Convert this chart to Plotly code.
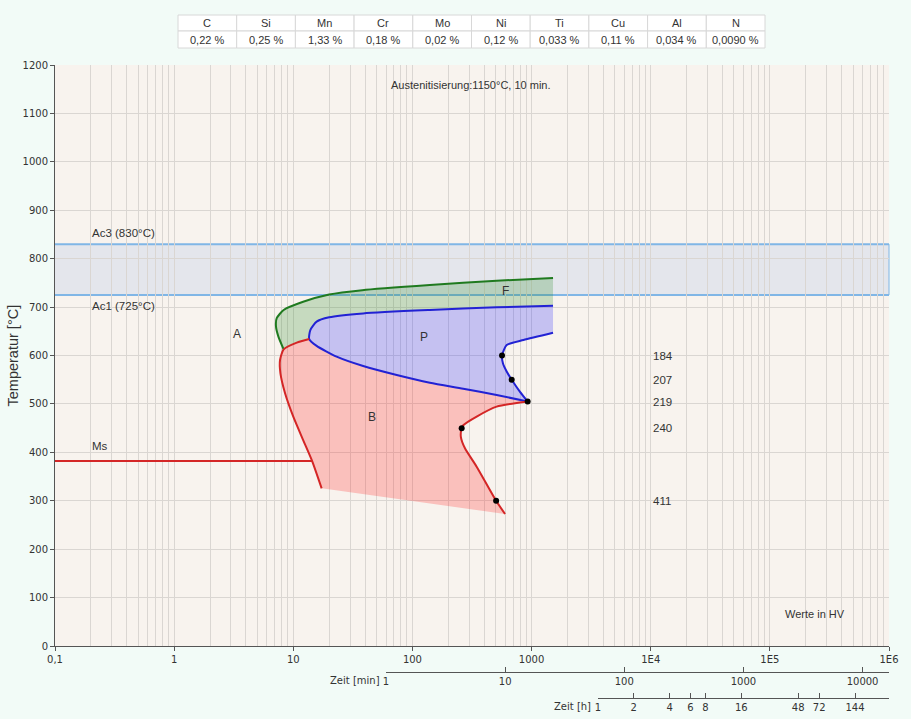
import numpy as np
import plotly.graph_objects as go

# ---------------- data ----------------
elements = ["C", "Si", "Mn", "Cr", "Mo", "Ni", "Ti", "Cu", "Al", "N"]
contents = ["0,22 %", "0,25 %", "1,33 %", "0,18 %", "0,02 %", "0,12 %",
            "0,033 %", "0,11 %", "0,034 %", "0,0090 %"]

x_tickvals = [0.1, 1, 10, 100, 1000, 1e4, 1e5, 1e6]
x_ticktext = ["0,1", "1", "10", "100", "1000", "1E4", "1E5", "1E6"]
min_ticks = [1, 10, 100, 1000, 10000]
h_ticks = [1, 2, 4, 6, 8, 16, 48, 72, 144]

ac3 = 830
ac1 = 725
ms_T = 382
ms_t = [0.1, 14.4]

ferrite_t = [1514, 509, 140, 38, 20, 12.1, 8.3, 7.26, 7.16, 7.5, 8.3]
ferrite_T = [760, 754.5, 745.6, 735, 726, 711, 694, 677, 659.5, 639, 612.7]

pearlite_start_t = [1514, 509, 140, 38.6, 20, 15.7, 13.9, 13.6, 15.7, 23.1,
                    38.6, 73.8, 140, 267, 509, 927]
pearlite_start_T = [703, 699.5, 694, 687, 679, 670, 652.6, 634, 620, 597.7,
                    578.3, 559.7, 543.8, 531.5, 518.4, 505]

pearlite_end_t = [927, 800, 681, 618, 575, 565, 618, 855, 1514]
pearlite_end_T = [505, 525, 550, 567, 584, 600, 621.7, 632, 647]

bainite_start_t = [13.6, 10.7, 8.3, 7.74, 7.8, 8.53, 10.0, 12.1, 14.4, 17.3]
bainite_start_T = [634, 626.6, 612.7, 590.7, 563, 522, 473.6, 425.4, 382, 325.7]

bainite_end_t = [927, 509, 346, 267, 259, 255, 276, 346, 504, 599]
bainite_end_T = [505, 494.5, 474, 456, 450, 432, 408.3, 370.4, 300, 272.6]

dot_t = [565, 681, 927, 259, 504]
dot_T = [600, 550, 505, 450, 300]
hardness = ["184", "207", "219", "240", "411"]
hardness_t = 1e4

region_labels = ["A", "P", "B", "F"]
region_t = [3.37, 125, 45.8, 599]
region_T = [644, 638, 473, 734]

# ---------------- geometry helpers ----------------
W, H = 911, 719
ML, MR, MT, MB = 55, 22, 0, 10
PW = W - ML - MR
PH = H - MT - MB


def py(p):  # pixel row -> paper y
    return (H - MB - p) / PH


def px(p):  # pixel column -> paper x
    return (p - ML) / PW


def xfrac(t):  # seconds -> fraction of main x domain
    return (np.log10(t) + 1) / 7.0


PAPER = "#f2fbf7"
PLOTBG = "#f8f3ee"
GRID = "#dad6d2"
AXC = "#555555"
GREEN = "#1f7a1f"
BLUE = "#2222d4"
RED = "#d42626"

fig = go.Figure()

# fills
g_t = ferrite_t + [bainite_start_t[1]] + pearlite_start_t[7::-1]
g_T = ferrite_T + [bainite_start_T[1]] + pearlite_start_T[7::-1]
fig.add_trace(go.Scatter(x=g_t, y=g_T, fill="toself", mode="lines", line=dict(width=0),
                         fillcolor="rgba(40,140,40,0.24)", hoverinfo="skip", showlegend=False))
b_t = pearlite_start_t + pearlite_end_t[1:]
b_T = pearlite_start_T + pearlite_end_T[1:]
fig.add_trace(go.Scatter(x=b_t, y=b_T, fill="toself", mode="lines", line=dict(width=0),
                         fillcolor="rgba(20,20,255,0.22)", hoverinfo="skip", showlegend=False))
r_t = bainite_start_t + bainite_end_t[::-1] + pearlite_start_t[14:7:-1]
r_T = bainite_start_T + bainite_end_T[::-1] + pearlite_start_T[14:7:-1]
fig.add_trace(go.Scatter(x=r_t, y=r_T, fill="toself", mode="lines", line=dict(width=0),
                         fillcolor="rgba(255,40,40,0.25)", hoverinfo="skip", showlegend=False))


def line(x, y, c):
    fig.add_trace(go.Scatter(x=x, y=y, mode="lines",
                             line=dict(color=c, width=2, shape="spline", smoothing=0.6),
                             hoverinfo="skip", showlegend=False))


line(ferrite_t, ferrite_T, GREEN)
line(pearlite_start_t, pearlite_start_T, BLUE)
line(pearlite_end_t, pearlite_end_T, BLUE)
line(bainite_start_t, bainite_start_T, RED)
line(bainite_end_t, bainite_end_T, RED)
fig.add_trace(go.Scatter(x=ms_t, y=[ms_T, ms_T], mode="lines", line=dict(color=RED, width=2),
                         hoverinfo="skip", showlegend=False))

fig.add_trace(go.Scatter(x=dot_t, y=dot_T, mode="markers", marker=dict(color="black", size=6),
                         hoverinfo="skip", showlegend=False))

# dummy traces for secondary axes
fig.add_trace(go.Scatter(x=[None], y=[None], xaxis="x2", yaxis="y2", showlegend=False, hoverinfo="skip"))
fig.add_trace(go.Scatter(x=[None], y=[None], xaxis="x3", yaxis="y3", showlegend=False, hoverinfo="skip"))

ydom = [py(646), py(65)]

shapes = [
    dict(type="rect", xref="x domain", yref="y domain", x0=0, x1=1, y0=0, y1=1,
         fillcolor=PLOTBG, line=dict(width=0), layer="below"),
    dict(type="rect", xref="x domain", yref="y", x0=0, x1=1, y0=ac1, y1=ac3,
         fillcolor="rgba(60,120,230,0.10)", line=dict(width=0), layer="below"),
    dict(type="line", xref="x domain", yref="y", x0=0, x1=1, y0=ac3, y1=ac3,
         line=dict(color="#80b6e6", width=2), layer="below"),
    dict(type="line", xref="x domain", yref="y", x0=0, x1=1, y0=ac1, y1=ac1,
         line=dict(color="#80b6e6", width=2), layer="below"),
    dict(type="line", xref="x domain", yref="y", x0=1, x1=1, y0=ac1, y1=ac3,
         line=dict(color="#80b6e6", width=1), layer="below"),
]

ann = []

# composition table (drawn with shapes + text)
TAB_L, TAB_R, TAB_T, TAB_M, TAB_B = 178, 765, 15, 31, 48
cw = (TAB_R - TAB_L) / len(elements)
TABF = dict(family="Liberation Sans, Arial", size=11, color="#333")
for i, (el, val) in enumerate(zip(elements, contents)):
    x0, x1 = TAB_L + i * cw, TAB_L + (i + 1) * cw
    for (r0, r1, txt) in [(TAB_T, TAB_M, el), (TAB_M, TAB_B, val)]:
        shapes.append(dict(type="rect", xref="paper", yref="paper", x0=px(x0), x1=px(x1),
                           y0=py(r1), y1=py(r0), fillcolor="white",
                           line=dict(color="#d8d8d8", width=1)))
        ann.append(dict(x=px((x0 + x1) / 2), y=py((r0 + r1) / 2), xref="paper", yref="paper",
                        text=txt, showarrow=False, xanchor="center", yanchor="middle", font=TABF))

TXT = dict(family="Liberation Sans, Arial", size=11.5, color="#333")


def a(t, T, text, xanchor="center", size=11.5):
    ann.append(dict(x=np.log10(t), y=T, xref="x", yref="y", text=text, showarrow=False,
                    xanchor=xanchor, yanchor="middle", font=dict(TXT, size=size)))


for lab, t, T in zip(region_labels, region_t, region_T):
    a(t, T, lab, size=12)
a(0.197, 853, "Ac3 (830°C)", "left")
a(0.197, 702, "Ac1 (725°C)", "left")
a(0.197, 413, "Ms", "left")
a(313, 1159, "Austenitisierung:1150°C, 10 min.", size=11)
a(2.39e5, 66, "Werte in HV", size=11)
for h, T in zip(hardness, dot_T):
    a(hardness_t, T, h, "left", size=11.5)

ann.append(dict(x=px(12), y=(ydom[0] + ydom[1]) / 2, xref="paper", yref="paper",
                text="Temperatur [°C]", textangle=-90, showarrow=False, xanchor="center", yanchor="middle",
                font=dict(family="Liberation Sans, Arial", size=14.5, color="#333")))
ann.append(dict(x=px(382), y=py(680), xref="paper", yref="paper", text="Zeit [min]", showarrow=False,
                xanchor="right", yanchor="middle", font=dict(family="DejaVu Sans", size=10, color="#333")))
ann.append(dict(x=px(593), y=py(706), xref="paper", yref="paper", text="Zeit [h]", showarrow=False,
                xanchor="right", yanchor="middle", font=dict(family="DejaVu Sans", size=10, color="#333")))

minor_vals = [m * 10.0 ** d for d in range(-1, 6) for m in range(2, 10)]
TICKF = dict(family="DejaVu Sans", size=10, color="#333")

fig.update_layout(
    width=W, height=H, margin=dict(l=ML, r=MR, t=MT, b=MB, pad=0, autoexpand=False),
    paper_bgcolor=PAPER, plot_bgcolor=PAPER,
    showlegend=False, shapes=shapes, annotations=ann,
    xaxis=dict(type="log", range=[-1, 6], domain=[0, 1], tickvals=x_tickvals, ticktext=x_ticktext,
               ticks="outside", ticklen=4, tickcolor=AXC, showline=True, linecolor=AXC, linewidth=1,
               showgrid=True, gridcolor=GRID, gridwidth=1, zeroline=False, tickfont=TICKF,
               minor=dict(tickvals=minor_vals, showgrid=True, gridcolor=GRID, gridwidth=1, ticks=""),
               anchor="y", automargin=False),
    yaxis=dict(range=[0, 1200], domain=ydom, dtick=100, tick0=0, ticks="outside", ticklen=4, tickcolor=AXC,
               showline=True, linecolor=AXC, linewidth=1, showgrid=True, gridcolor=GRID, zeroline=False,
               tickfont=TICKF, anchor="x", automargin=False),
    xaxis2=dict(type="log", domain=[xfrac(60), 1], range=[0, np.log10(1e6 / 60)], anchor="y2",
                tickvals=min_ticks, ticktext=[str(v) for v in min_ticks], ticks="inside", ticklen=5,
                tickcolor=AXC, showline=True, linecolor=AXC, linewidth=1, showgrid=False, zeroline=False,
                tickfont=TICKF, automargin=False),
    yaxis2=dict(domain=[py(672), py(672) + 0.0005], visible=False, anchor="x2", showgrid=False),
    xaxis3=dict(type="log", domain=[xfrac(3600), 1], range=[0, np.log10(1e6 / 3600)], anchor="y3",
                tickvals=h_ticks, ticktext=[str(v) for v in h_ticks], ticks="inside", ticklen=5,
                tickcolor=AXC, showline=True, linecolor=AXC, linewidth=1, showgrid=False, zeroline=False,
                tickfont=TICKF, automargin=False),
    yaxis3=dict(domain=[py(697.5), py(697.5) + 0.0005], visible=False, anchor="x3", showgrid=False),
)

fig.write_html("out.html")
